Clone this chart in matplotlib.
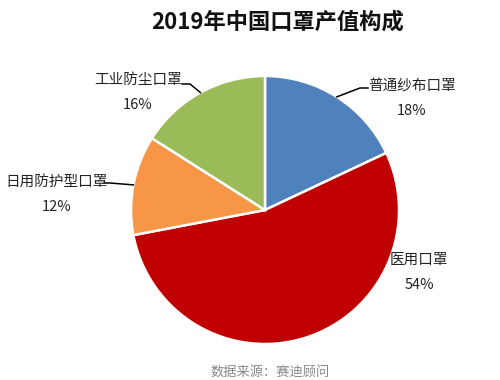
import numpy as np
import matplotlib
matplotlib.use('Agg')
import matplotlib.pyplot as plt

plt.rcParams['font.family'] = ['Noto Sans CJK SC', 'DejaVu Sans']

# data
labels = ['普通纱布口罩', '医用口罩', '日用防护型口罩', '工业防尘口罩']
shares = [18, 54, 12, 16]
colors = ['#4F81BD', '#C00000', '#F79646', '#9BBB59']
title = '2019年中国口罩产值构成'
source = '数据来源：赛迪顾问'

# layout in pixel space (y measured downward from top)
W, H = 500, 380
cx, cy, r = 265, 210, 134

# label text positions (centre of name line) and leader line elbow
label_pos = [(412, 86), (419, 260), (57, 182), (138, 80)]
elbow = [(360, 88), None, (110, 183), (190, 84)]
line_end = [(368, 88), None, (104, 183), (182, 84)]

fig = plt.figure(figsize=(5, 3.8), dpi=100)
ax = fig.add_axes([0, 0, 1, 1])

ax.pie(shares, colors=colors, startangle=90, counterclock=False,
       center=(cx, H - cy), radius=r,
       wedgeprops={'edgecolor': 'white', 'linewidth': 1.8})

ax.set_xlim(0, W)
ax.set_ylim(0, H)
ax.set_aspect('equal')
ax.axis('off')

# mid angles of slices
cum = np.cumsum([0] + shares[:-1])
mids = 90 - (cum + np.array(shares) / 2) * 3.6

for i, lab in enumerate(labels):
    lx, ly = label_pos[i]
    ax.text(lx, H - ly, lab, ha='center', va='center', fontsize=10.5, color='#222222')
    ax.text(lx, H - ly - 25, '{0}%'.format(shares[i]), ha='center', va='center',
            fontsize=10.5, color='#222222')
    if elbow[i] is not None:
        a = np.deg2rad(mids[i])
        sx = cx + r * np.cos(a)
        sy = (H - cy) + r * np.sin(a)
        ex, ey = elbow[i]
        fx, fy = line_end[i]
        ax.plot([sx, ex, fx], [sy, H - ey, H - fy], color='black', lw=1.1)

ax.text(278, H - 22, title, ha='center', va='center', fontsize=16,
        fontweight='bold', color='#111111')
ax.text(270, H - 372, source, ha='center', va='center', fontsize=9.5, color='#888888')

plt.savefig('out.png', dpi=100)
